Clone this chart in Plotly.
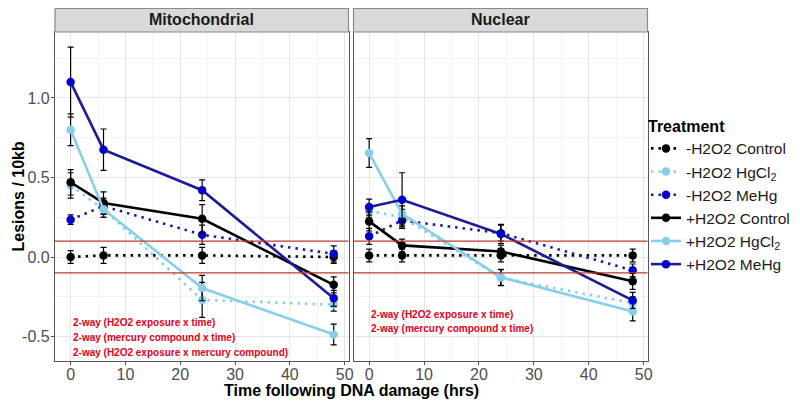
import plotly.graph_objects as go

times = [0, 6, 24, 48]
treatments = ["-H2O2 Control", "-H2O2 HgCl<sub>2</sub>", "-H2O2 MeHg",
              "+H2O2 Control", "+H2O2 HgCl<sub>2</sub>", "+H2O2 MeHg"]

# Mitochondrial panel values
mito_minus_control = [0.00, 0.01, 0.01, 0.00]
mito_minus_hgcl2 = [0.45, 0.30, -0.27, -0.30]
mito_minus_mehg = [0.235, 0.32, 0.14, 0.02]
mito_plus_control = [0.47, 0.34, 0.24, -0.175]
mito_plus_hgcl2 = [0.80, 0.30, -0.195, -0.487]
mito_plus_mehg = [1.10, 0.675, 0.42, -0.26]

mito_minus_control_err = [0.04, 0.05, 0.05, 0.04]
mito_minus_hgcl2_err = [0.08, 0.05, 0.11, 0.04]
mito_minus_mehg_err = [0.03, 0.05, 0.06, 0.05]
mito_plus_control_err = [0.08, 0.07, 0.09, 0.05]
mito_plus_hgcl2_err = [0.10, 0.05, 0.08, 0.065]
mito_plus_mehg_err = [0.22, 0.13, 0.065, 0.05]

# Nuclear panel values
nuc_minus_control = [0.01, 0.01, 0.01, 0.01]
nuc_minus_hgcl2 = [0.29, 0.25, -0.13, -0.29]
nuc_minus_mehg = [0.13, 0.23, 0.15, -0.084]
nuc_plus_control = [0.224, 0.073, 0.035, -0.153]
nuc_plus_hgcl2 = [0.654, 0.272, -0.128, -0.342]
nuc_plus_mehg = [0.314, 0.36, 0.145, -0.273]

nuc_minus_control_err = [0.04, 0.04, 0.04, 0.04]
nuc_minus_hgcl2_err = [0.04, 0.05, 0.05, 0.04]
nuc_minus_mehg_err = [0.05, 0.05, 0.05, 0.04]
nuc_plus_control_err = [0.06, 0.04, 0.04, 0.05]
nuc_plus_hgcl2_err = [0.09, 0.05, 0.05, 0.06]
nuc_plus_mehg_err = [0.05, 0.17, 0.06, 0.05]

threshold_lines = [0.1, -0.1]
mito_notes = ["2-way (H2O2 exposure x time)",
              "2-way (mercury compound x time)",
              "2-way (H2O2 exposure x mercury compound)"]
nuc_notes = ["2-way (H2O2 exposure x time)",
             "2-way (mercury compound x time)"]
note_y_mito = [-0.41, -0.505, -0.60]
note_y_nuc = [-0.364, -0.45]

panel_titles = ["Mitochondrial", "Nuclear"]

BLACK = "#000000"
LIGHT = "#87CEEB"
DARK_LINE = "#1c1c96"
DARK_MARK = "#0000c8"
FONT = "Liberation Sans, Arial"

styles = [
    dict(lc=BLACK, mc=BLACK, dash="2.5px,5px"),
    dict(lc=LIGHT, mc=LIGHT, dash="2.5px,5px"),
    dict(lc=DARK_LINE, mc=DARK_MARK, dash="2.5px,5px"),
    dict(lc=BLACK, mc=BLACK, dash="solid"),
    dict(lc=LIGHT, mc=LIGHT, dash="solid"),
    dict(lc=DARK_LINE, mc=DARK_MARK, dash="solid"),
]

mito = [mito_minus_control, mito_minus_hgcl2, mito_minus_mehg,
        mito_plus_control, mito_plus_hgcl2, mito_plus_mehg]
mito_err = [mito_minus_control_err, mito_minus_hgcl2_err, mito_minus_mehg_err,
            mito_plus_control_err, mito_plus_hgcl2_err, mito_plus_mehg_err]
nuc = [nuc_minus_control, nuc_minus_hgcl2, nuc_minus_mehg,
       nuc_plus_control, nuc_plus_hgcl2, nuc_plus_mehg]
nuc_err = [nuc_minus_control_err, nuc_minus_hgcl2_err, nuc_minus_mehg_err,
           nuc_plus_control_err, nuc_plus_hgcl2_err, nuc_plus_mehg_err]

fig = go.Figure()

for panel, (vals, errs, xa, ya) in enumerate([(mito, mito_err, "x", "y"),
                                               (nuc, nuc_err, "x2", "y2")]):
    for i in range(6):
        st = styles[i]
        fig.add_trace(go.Scatter(
            x=times, y=vals[i], mode="lines+markers", name=treatments[i],
            legendgroup=treatments[i], showlegend=(panel == 0),
            line=dict(color=st["lc"], width=2.6, dash=st["dash"]),
            marker=dict(color=st["mc"], size=8.5),
            error_y=dict(type="data", array=errs[i], color="#000000",
                         thickness=1.2, width=3),
            xaxis=xa, yaxis=ya,
        ))

# threshold lines
for xref, yref in [("x", "y"), ("x2", "y2")]:
    for t in threshold_lines:
        fig.add_shape(type="line", xref=xref + " domain", yref=yref,
                      x0=0, x1=1, y0=t, y1=t,
                      line=dict(color="#c0392b", width=1.3), layer="above")

# annotations
ann_font = dict(family=FONT, size=10, color="#e0001a")
for txt, yy in zip(mito_notes, note_y_mito):
    fig.add_annotation(x=0, y=yy, xref="x", yref="y", text="<b>" + txt + "</b>",
                       showarrow=False, xanchor="left", yanchor="middle", font=ann_font)
for txt, yy in zip(nuc_notes, note_y_nuc):
    fig.add_annotation(x=0, y=yy, xref="x2", yref="y2", text="<b>" + txt + "</b>",
                       showarrow=False, xanchor="left", yanchor="middle", font=ann_font)

W, H = 800, 407
O = 8  # page offset of the figure (browser body margin)


def px_x(p):
    return (p - O) / W


def px_y(p):
    return (H - (p - O)) / H


dom1 = [px_x(55), px_x(348.5)]
dom2 = [px_x(353.5), px_x(647.5)]
ydom = [px_y(361), px_y(32)]
strip_top = min(1.0, px_y(7))

# strips
for dom, title in zip([dom1, dom2], panel_titles):
    fig.add_shape(type="rect", xref="paper", yref="paper",
                  x0=dom[0], x1=dom[1], y0=ydom[1], y1=strip_top - 0.5 / H,
                  fillcolor="#d9d9d9", line=dict(color="#8a8a8a", width=1.2))
    fig.add_annotation(x=(dom[0] + dom[1]) / 2, y=(ydom[1] + px_y(7)) / 2,
                       xref="paper", yref="paper", text="<b>" + title + "</b>",
                       showarrow=False, xanchor="center", yanchor="middle",
                       font=dict(family=FONT, size=16, color="#1a1a1a"))

axis_common = dict(
    showgrid=True, gridcolor="#e6e6e6", gridwidth=1,
    showline=True, linecolor="#555555", linewidth=1.2, mirror=True,
    tickcolor="#555555", ticklen=3,
    tickfont=dict(family=FONT, size=16, color="#4d4d4d"),
    zeroline=False, automargin=False,
)
minor_x = dict(tickvals=[5, 15, 25, 35, 45], showgrid=True,
               gridcolor="#f3f3f3", gridwidth=0.6, ticks="")
minor_y = dict(tickvals=[-0.25, 0.25, 0.75, 1.25], showgrid=True,
               gridcolor="#f3f3f3", gridwidth=0.6, ticks="")
xr = [-2.85, 50.7]
yr = [-0.654, 1.415]

fig.update_layout(
    width=W, height=H,
    margin=dict(l=0, r=0, t=0, b=0, autoexpand=False),
    paper_bgcolor="white", plot_bgcolor="white",
    xaxis=dict(domain=dom1, range=xr, tickvals=[0, 10, 20, 30, 40, 50],
               minor=minor_x, ticks="outside", anchor="y",
               ticklabelstandoff=-4, **axis_common),
    xaxis2=dict(domain=dom2, range=xr, tickvals=[0, 10, 20, 30, 40, 50],
                minor=minor_x, ticks="outside", anchor="y2",
                ticklabelstandoff=-4, **axis_common),
    yaxis=dict(domain=ydom, range=yr, tickvals=[-0.5, 0, 0.5, 1.0],
               ticktext=["-0.5", "0.0", "0.5", "1.0"],
               minor=minor_y, ticks="outside", anchor="x",
               ticklabelstandoff=-2, **axis_common),
    yaxis2=dict(domain=ydom, range=yr, tickvals=[-0.5, 0, 0.5, 1.0],
                showticklabels=False, ticks="",
                minor=minor_y, anchor="x2", **axis_common),
    legend=dict(
        x=px_x(646), y=px_y(111), xanchor="left", yanchor="top",
        title=dict(text="<b>Treatment</b>",
                   font=dict(family=FONT, size=16, color="#000000")),
        font=dict(family=FONT, size=15.5, color="#1a1a1a"),
        bgcolor="rgba(0,0,0,0)", tracegroupgap=0, itemwidth=30,
    ),
    showlegend=True,
)

fig.add_annotation(x=(dom1[0] + dom2[1]) / 2, y=px_y(390), xref="paper", yref="paper",
                   text="<b>Time following DNA damage (hrs)</b>", showarrow=False,
                   xanchor="center", yanchor="middle",
                   font=dict(family=FONT, size=16, color="#000000"))
fig.add_annotation(x=px_x(18), y=(ydom[0] + ydom[1]) / 2, xref="paper", yref="paper",
                   text="<b>Lesions / 10kb</b>", showarrow=False, textangle=-90,
                   xanchor="center", yanchor="middle",
                   font=dict(family=FONT, size=16, color="#000000"))

fig.write_html("out.html")
